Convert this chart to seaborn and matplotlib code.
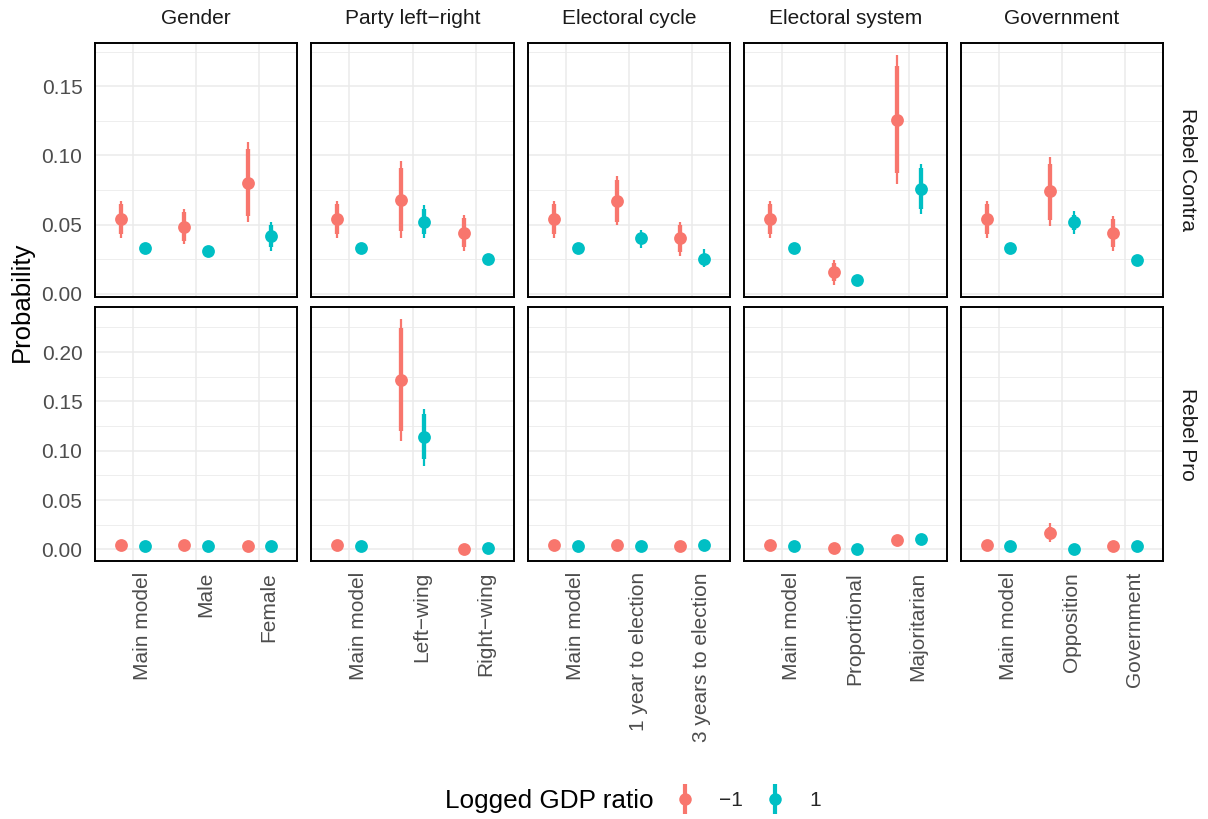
import numpy as np
import pandas as pd
import matplotlib
matplotlib.use("Agg")
import matplotlib.pyplot as plt
from matplotlib.lines import Line2D
from matplotlib.legend_handler import HandlerTuple
import seaborn as sns

# ---- data -------------------------------------------------------------
facets = ["Gender", "Party left\u2212right", "Electoral cycle",
          "Electoral system", "Government"]
categories = [
    ["Main model", "Male", "Female"],
    ["Main model", "Left\u2212wing", "Right\u2212wing"],
    ["Main model", "1 year to election", "3 years to election"],
    ["Main model", "Proportional", "Majoritarian"],
    ["Main model", "Opposition", "Government"],
]
outcomes = ["Rebel Contra", "Rebel Pro"]
gdp_levels = ["\u22121", "1"]

# Rebel Contra, logged GDP ratio = -1
contra_neg_est = [[0.054, 0.048, 0.080], [0.054, 0.068, 0.044], [0.054, 0.067, 0.040],
                  [0.054, 0.016, 0.126], [0.054, 0.074, 0.044]]
contra_neg_lo80 = [[0.043, 0.038, 0.056], [0.043, 0.045, 0.034], [0.043, 0.052, 0.030],
                   [0.043, 0.009, 0.087], [0.043, 0.053, 0.034]]
contra_neg_hi80 = [[0.065, 0.059, 0.105], [0.065, 0.091, 0.055], [0.065, 0.082, 0.050],
                   [0.065, 0.022, 0.165], [0.065, 0.094, 0.054]]
contra_neg_lo95 = [[0.040, 0.036, 0.052], [0.040, 0.040, 0.031], [0.040, 0.050, 0.027],
                   [0.040, 0.006, 0.079], [0.040, 0.049, 0.031]]
contra_neg_hi95 = [[0.067, 0.061, 0.110], [0.067, 0.096, 0.057], [0.067, 0.085, 0.052],
                   [0.067, 0.024, 0.173], [0.067, 0.099, 0.056]]

# Rebel Contra, logged GDP ratio = 1
contra_pos_est = [[0.033, 0.031, 0.042], [0.033, 0.052, 0.025], [0.033, 0.040, 0.025],
                  [0.033, 0.010, 0.076], [0.033, 0.052, 0.024]]
contra_pos_lo80 = [[0.031, 0.029, 0.034], [0.031, 0.043, 0.023], [0.031, 0.036, 0.021],
                   [0.031, 0.009, 0.061], [0.031, 0.046, 0.022]]
contra_pos_hi80 = [[0.035, 0.033, 0.050], [0.035, 0.061, 0.027], [0.035, 0.044, 0.029],
                   [0.035, 0.011, 0.091], [0.035, 0.057, 0.025]]
contra_pos_lo95 = [[0.029, 0.028, 0.031], [0.029, 0.040, 0.022], [0.029, 0.033, 0.019],
                   [0.029, 0.008, 0.058], [0.029, 0.043, 0.021]]
contra_pos_hi95 = [[0.036, 0.034, 0.052], [0.036, 0.064, 0.028], [0.036, 0.046, 0.032],
                   [0.036, 0.012, 0.094], [0.036, 0.060, 0.026]]

# Rebel Pro, logged GDP ratio = -1
pro_neg_est = [[0.0045, 0.0045, 0.0035], [0.0045, 0.172, 0.0005], [0.0045, 0.0050, 0.0030],
               [0.0045, 0.0015, 0.0100], [0.0045, 0.0170, 0.0030]]
pro_neg_lo80 = [[0.0038, 0.0038, 0.0029], [0.0038, 0.120, 0.0002], [0.0038, 0.0042, 0.0024],
                [0.0038, 0.0010, 0.0085], [0.0038, 0.0120, 0.0024]]
pro_neg_hi80 = [[0.0053, 0.0053, 0.0042], [0.0053, 0.224, 0.0009], [0.0053, 0.0059, 0.0037],
                [0.0053, 0.0021, 0.0117], [0.0053, 0.0230, 0.0037]]
pro_neg_lo95 = [[0.0035, 0.0035, 0.0026], [0.0035, 0.110, 0.0000], [0.0035, 0.0039, 0.0021],
                [0.0035, 0.0008, 0.0080], [0.0035, 0.0080, 0.0021]]
pro_neg_hi95 = [[0.0056, 0.0056, 0.0045], [0.0056, 0.234, 0.0011], [0.0056, 0.0062, 0.0040],
                [0.0056, 0.0024, 0.0123], [0.0056, 0.0270, 0.0040]]

# Rebel Pro, logged GDP ratio = 1
pro_pos_est = [[0.0040, 0.0040, 0.0035], [0.0040, 0.114, 0.0010], [0.0040, 0.0040, 0.0050],
               [0.0040, 0.0005, 0.0110], [0.0040, 0.0005, 0.0040]]
pro_pos_lo80 = [[0.0034, 0.0034, 0.0029], [0.0034, 0.092, 0.0006], [0.0034, 0.0034, 0.0043],
                [0.0034, 0.0002, 0.0095], [0.0034, 0.0002, 0.0034]]
pro_pos_hi80 = [[0.0047, 0.0047, 0.0042], [0.0047, 0.137, 0.0014], [0.0047, 0.0047, 0.0058],
                [0.0047, 0.0009, 0.0126], [0.0047, 0.0009, 0.0047]]
pro_pos_lo95 = [[0.0031, 0.0031, 0.0026], [0.0031, 0.085, 0.0004], [0.0031, 0.0031, 0.0040],
                [0.0031, 0.0000, 0.0090], [0.0031, 0.0000, 0.0031]]
pro_pos_hi95 = [[0.0050, 0.0050, 0.0045], [0.0050, 0.142, 0.0016], [0.0050, 0.0050, 0.0061],
                [0.0050, 0.0011, 0.0132], [0.0050, 0.0011, 0.0050]]

series = {
    ("Rebel Contra", "\u22121"): (contra_neg_est, contra_neg_lo80, contra_neg_hi80, contra_neg_lo95, contra_neg_hi95),
    ("Rebel Contra", "1"): (contra_pos_est, contra_pos_lo80, contra_pos_hi80, contra_pos_lo95, contra_pos_hi95),
    ("Rebel Pro", "\u22121"): (pro_neg_est, pro_neg_lo80, pro_neg_hi80, pro_neg_lo95, pro_neg_hi95),
    ("Rebel Pro", "1"): (pro_pos_est, pro_pos_lo80, pro_pos_hi80, pro_pos_lo95, pro_pos_hi95),
}

# ---- long table -------------------------------------------------------
dodge = {"\u22121": -0.1875, "1": 0.1875}
rows = []
for (outcome, gdp), (est, lo80, hi80, lo95, hi95) in series.items():
    for f, facet in enumerate(facets):
        for c, cat in enumerate(categories[f]):
            rows.append(dict(outcome=outcome, facet=facet, category=cat, gdp=gdp,
                             pos=c + 1 + dodge[gdp], est=est[f][c],
                             lo80=lo80[f][c], hi80=hi80[f][c],
                             lo95=lo95[f][c], hi95=hi95[f][c]))
df = pd.DataFrame(rows)

# ---- style ------------------------------------------------------------
sns.set_style("white")
plt.rcParams["font.family"] = ["Liberation Sans", "DejaVu Sans"]
palette = {"\u22121": "#F8766D", "1": "#00BFC4"}
grid_col = "#EBEBEB"
tick_col = "#4D4D4D"

W, H = 1208, 819
fig, axes = plt.subplots(2, 5, figsize=(W / 100, H / 100), dpi=100)
fig.subplots_adjust(left=95 / W, right=1163 / W, top=1 - 43 / H, bottom=1 - 561 / H,
                    wspace=0.069, hspace=0.04)

for r, outcome in enumerate(outcomes):
    sub_row = df[df.outcome == outcome]
    lo, hi = sub_row.lo95.min(), sub_row.hi95.max()
    span = hi - lo
    ylim = (lo - 0.05 * span, hi + 0.05 * span)
    major = np.arange(0, hi + 0.0001, 0.05)
    minor = np.arange(0.025, ylim[1], 0.05)
    for f, facet in enumerate(facets):
        ax = axes[r, f]
        sub = sub_row[sub_row.facet == facet]
        ax.set_axisbelow(True)
        for y in minor:
            ax.axhline(y, color=grid_col, lw=0.6, zorder=0)
        for y in major:
            ax.axhline(y, color=grid_col, lw=1.1, zorder=0)
        for x in (1, 2, 3):
            ax.axvline(x, color=grid_col, lw=1.1, zorder=0)
        for gdp in gdp_levels:
            g = sub[sub.gdp == gdp]
            ax.vlines(g.pos, g.lo95, g.hi95, color=palette[gdp], lw=1.6,
                      capstyle="butt", zorder=2)
            ax.vlines(g.pos, g.lo80, g.hi80, color=palette[gdp], lw=3.1,
                      capstyle="butt", zorder=2)
            sns.scatterplot(data=g, x="pos", y="est", color=palette[gdp], s=85,
                            linewidth=0, ax=ax, zorder=3, legend=False)
        ax.set_xlim(0.4, 3.6)
        ax.set_ylim(*ylim)
        ax.set_xticks([1, 2, 3])
        ax.set_yticks(major)
        ax.set_xlabel("")
        ax.set_ylabel("")
        ax.tick_params(length=0, labelsize=15, labelcolor=tick_col)
        ax.tick_params(axis="y", pad=9)
        ax.tick_params(axis="x", pad=8)
        if r == 1:
            ax.set_xticklabels(categories[f], rotation=90, va="top", ha="left",
                               rotation_mode="default")
        else:
            ax.set_xticklabels([])
            ax.set_title(facet, fontsize=15, color="#1A1A1A", pad=14)
        if f == 0:
            ax.set_yticklabels([f"{v:.2f}" for v in major])
        else:
            ax.set_yticklabels([])
        if f == 4:
            ax.annotate(outcome, xy=(1, 0.5), xycoords="axes fraction",
                        xytext=(11, 0), textcoords="offset points", rotation=-90,
                        va="center", ha="left", fontsize=15, color="#1A1A1A")
        for sp in ax.spines.values():
            sp.set_visible(True)
            sp.set_color("black")
            sp.set_linewidth(1.4)

fig.text(22 / W, 1 - 302 / H, "Probability", rotation=90, va="center", ha="center",
         fontsize=18.5, color="black")

# legend: pointrange keys (vertical bar with a dot on top of it)
handles = []
for gdp in gdp_levels:
    bar = Line2D([], [], color=palette[gdp], marker="|", markersize=22,
                 markeredgewidth=3.0, linestyle="none")
    dot = Line2D([], [], color=palette[gdp], marker="o", markersize=9,
                 markeredgewidth=0, linestyle="none")
    handles.append((bar, dot))
fig.text(445 / W, 1 - 801 / H, "Logged GDP ratio", va="center", ha="left",
         fontsize=18.8, color="black")
fig.legend(handles, gdp_levels, handler_map={tuple: HandlerTuple(ndivide=1)},
           ncol=2, loc="center left", bbox_to_anchor=(664 / W, 1 - 801 / H),
           frameon=False, fontsize=15, handlelength=1.2, handletextpad=1.05,
           columnspacing=0.95, borderaxespad=0)

fig.savefig("out.png", dpi=100)
